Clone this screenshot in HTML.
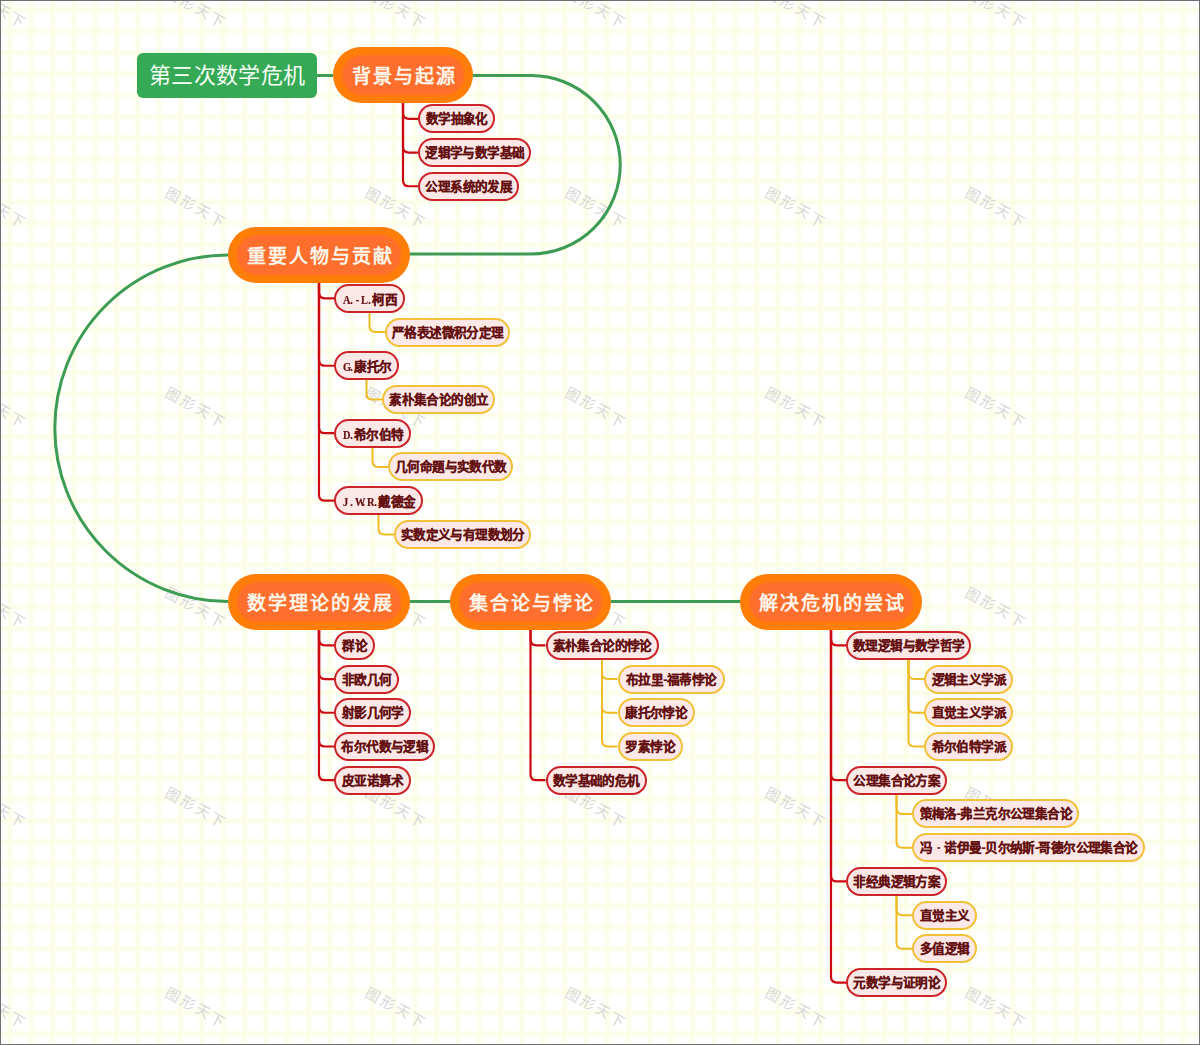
<!DOCTYPE html>
<html lang="zh-CN"><head><meta charset="utf-8"><title>第三次数学危机</title>
<style>
html,body{margin:0;padding:0;}
body{width:1200px;height:1045px;position:relative;overflow:hidden;background:#fff;font-family:"Liberation Sans",sans-serif;}
svg{position:absolute;left:0;top:0;}
.wm{position:absolute;width:80px;height:20px;line-height:20px;text-align:center;font-size:14.5px;font-weight:normal;color:#d8d8d8;transform:translateY(3px) rotate(29deg);letter-spacing:3px;white-space:nowrap;}
.title{position:absolute;left:137px;top:53px;width:180px;height:45px;border-radius:6px;background:#35a956;color:#f4fff4;font-size:22px;letter-spacing:0.35px;text-indent:0.35px;line-height:46.5px;text-align:center;white-space:nowrap;}
.on{position:absolute;height:56px;border-radius:28px;background:#ff7e08;}
.on .oi{position:absolute;left:9px;top:8px;right:9px;bottom:8px;border-radius:20px;background:#fe6e2d;filter:blur(1.2px);}
.on span{position:absolute;left:0;right:0;top:0;height:56px;line-height:60px;text-align:center;color:#fff6ea;font-size:19px;font-weight:bold;letter-spacing:2px;text-indent:2px;white-space:nowrap;}
.c2,.c3{position:absolute;box-sizing:border-box;height:29px;border-radius:14.5px;background:#fce8e7;border:2px solid #cc2429;color:#641010;font-size:12.6px;letter-spacing:-0.6px;text-indent:0.6px;font-weight:bold;-webkit-text-stroke:0.2px #641010;line-height:27px;text-align:center;white-space:nowrap;}
.c3{border-color:#f2c13a;}
.dot{display:inline-block;width:12px;text-align:center;}
.m{display:inline-block;width:6px;text-align:center;font-style:normal;font-family:"Liberation Serif",serif;font-size:13px;transform:scaleX(0.8);}
.lat{font-family:"Liberation Serif",serif;}
.frame{position:absolute;left:0;top:0;width:1200px;height:1045px;box-sizing:border-box;border:1px solid #707070;}
</style></head><body>
<svg width="1200" height="1045"><defs><filter id="bl" x="0" y="0" width="1" height="1"><feGaussianBlur stdDeviation="1.8"/></filter></defs><g fill="#fcfde4" filter="url(#bl)"><rect x="8.00" y="0" width="4" height="1045"/><rect x="29.33" y="0" width="4" height="1045"/><rect x="50.67" y="0" width="4" height="1045"/><rect x="72.00" y="0" width="4" height="1045"/><rect x="93.33" y="0" width="4" height="1045"/><rect x="114.67" y="0" width="4" height="1045"/><rect x="136.00" y="0" width="4" height="1045"/><rect x="157.33" y="0" width="4" height="1045"/><rect x="178.67" y="0" width="4" height="1045"/><rect x="200.00" y="0" width="4" height="1045"/><rect x="221.33" y="0" width="4" height="1045"/><rect x="242.67" y="0" width="4" height="1045"/><rect x="264.00" y="0" width="4" height="1045"/><rect x="285.33" y="0" width="4" height="1045"/><rect x="306.67" y="0" width="4" height="1045"/><rect x="328.00" y="0" width="4" height="1045"/><rect x="349.33" y="0" width="4" height="1045"/><rect x="370.67" y="0" width="4" height="1045"/><rect x="392.00" y="0" width="4" height="1045"/><rect x="413.33" y="0" width="4" height="1045"/><rect x="434.67" y="0" width="4" height="1045"/><rect x="456.00" y="0" width="4" height="1045"/><rect x="477.33" y="0" width="4" height="1045"/><rect x="498.67" y="0" width="4" height="1045"/><rect x="520.00" y="0" width="4" height="1045"/><rect x="541.33" y="0" width="4" height="1045"/><rect x="562.67" y="0" width="4" height="1045"/><rect x="584.00" y="0" width="4" height="1045"/><rect x="605.33" y="0" width="4" height="1045"/><rect x="626.67" y="0" width="4" height="1045"/><rect x="648.00" y="0" width="4" height="1045"/><rect x="669.33" y="0" width="4" height="1045"/><rect x="690.67" y="0" width="4" height="1045"/><rect x="712.00" y="0" width="4" height="1045"/><rect x="733.33" y="0" width="4" height="1045"/><rect x="754.67" y="0" width="4" height="1045"/><rect x="776.00" y="0" width="4" height="1045"/><rect x="797.33" y="0" width="4" height="1045"/><rect x="818.67" y="0" width="4" height="1045"/><rect x="840.00" y="0" width="4" height="1045"/><rect x="861.33" y="0" width="4" height="1045"/><rect x="882.67" y="0" width="4" height="1045"/><rect x="904.00" y="0" width="4" height="1045"/><rect x="925.33" y="0" width="4" height="1045"/><rect x="946.67" y="0" width="4" height="1045"/><rect x="968.00" y="0" width="4" height="1045"/><rect x="989.33" y="0" width="4" height="1045"/><rect x="1010.67" y="0" width="4" height="1045"/><rect x="1032.00" y="0" width="4" height="1045"/><rect x="1053.33" y="0" width="4" height="1045"/><rect x="1074.67" y="0" width="4" height="1045"/><rect x="1096.00" y="0" width="4" height="1045"/><rect x="1117.33" y="0" width="4" height="1045"/><rect x="1138.67" y="0" width="4" height="1045"/><rect x="1160.00" y="0" width="4" height="1045"/><rect x="1181.33" y="0" width="4" height="1045"/><rect x="0" y="8.00" width="1200" height="4"/><rect x="0" y="29.33" width="1200" height="4"/><rect x="0" y="50.67" width="1200" height="4"/><rect x="0" y="72.00" width="1200" height="4"/><rect x="0" y="93.33" width="1200" height="4"/><rect x="0" y="114.67" width="1200" height="4"/><rect x="0" y="136.00" width="1200" height="4"/><rect x="0" y="157.33" width="1200" height="4"/><rect x="0" y="178.67" width="1200" height="4"/><rect x="0" y="200.00" width="1200" height="4"/><rect x="0" y="221.33" width="1200" height="4"/><rect x="0" y="242.67" width="1200" height="4"/><rect x="0" y="264.00" width="1200" height="4"/><rect x="0" y="285.33" width="1200" height="4"/><rect x="0" y="306.67" width="1200" height="4"/><rect x="0" y="328.00" width="1200" height="4"/><rect x="0" y="349.33" width="1200" height="4"/><rect x="0" y="370.67" width="1200" height="4"/><rect x="0" y="392.00" width="1200" height="4"/><rect x="0" y="413.33" width="1200" height="4"/><rect x="0" y="434.67" width="1200" height="4"/><rect x="0" y="456.00" width="1200" height="4"/><rect x="0" y="477.33" width="1200" height="4"/><rect x="0" y="498.67" width="1200" height="4"/><rect x="0" y="520.00" width="1200" height="4"/><rect x="0" y="541.33" width="1200" height="4"/><rect x="0" y="562.67" width="1200" height="4"/><rect x="0" y="584.00" width="1200" height="4"/><rect x="0" y="605.33" width="1200" height="4"/><rect x="0" y="626.67" width="1200" height="4"/><rect x="0" y="648.00" width="1200" height="4"/><rect x="0" y="669.33" width="1200" height="4"/><rect x="0" y="690.67" width="1200" height="4"/><rect x="0" y="712.00" width="1200" height="4"/><rect x="0" y="733.33" width="1200" height="4"/><rect x="0" y="754.67" width="1200" height="4"/><rect x="0" y="776.00" width="1200" height="4"/><rect x="0" y="797.33" width="1200" height="4"/><rect x="0" y="818.67" width="1200" height="4"/><rect x="0" y="840.00" width="1200" height="4"/><rect x="0" y="861.33" width="1200" height="4"/><rect x="0" y="882.67" width="1200" height="4"/><rect x="0" y="904.00" width="1200" height="4"/><rect x="0" y="925.33" width="1200" height="4"/><rect x="0" y="946.67" width="1200" height="4"/><rect x="0" y="968.00" width="1200" height="4"/><rect x="0" y="989.33" width="1200" height="4"/><rect x="0" y="1010.67" width="1200" height="4"/><rect x="0" y="1032.00" width="1200" height="4"/></g></svg>
<div class="wm" style="left:-44px;top:-5px">图形天下</div><div class="wm" style="left:-44px;top:195px">图形天下</div><div class="wm" style="left:-44px;top:395px">图形天下</div><div class="wm" style="left:-44px;top:595px">图形天下</div><div class="wm" style="left:-44px;top:795px">图形天下</div><div class="wm" style="left:-44px;top:995px">图形天下</div><div class="wm" style="left:156px;top:-5px">图形天下</div><div class="wm" style="left:156px;top:195px">图形天下</div><div class="wm" style="left:156px;top:395px">图形天下</div><div class="wm" style="left:156px;top:595px">图形天下</div><div class="wm" style="left:156px;top:795px">图形天下</div><div class="wm" style="left:156px;top:995px">图形天下</div><div class="wm" style="left:356px;top:-5px">图形天下</div><div class="wm" style="left:356px;top:195px">图形天下</div><div class="wm" style="left:356px;top:395px">图形天下</div><div class="wm" style="left:356px;top:595px">图形天下</div><div class="wm" style="left:356px;top:795px">图形天下</div><div class="wm" style="left:356px;top:995px">图形天下</div><div class="wm" style="left:556px;top:-5px">图形天下</div><div class="wm" style="left:556px;top:195px">图形天下</div><div class="wm" style="left:556px;top:395px">图形天下</div><div class="wm" style="left:556px;top:595px">图形天下</div><div class="wm" style="left:556px;top:795px">图形天下</div><div class="wm" style="left:556px;top:995px">图形天下</div><div class="wm" style="left:756px;top:-5px">图形天下</div><div class="wm" style="left:756px;top:195px">图形天下</div><div class="wm" style="left:756px;top:395px">图形天下</div><div class="wm" style="left:756px;top:595px">图形天下</div><div class="wm" style="left:756px;top:795px">图形天下</div><div class="wm" style="left:756px;top:995px">图形天下</div><div class="wm" style="left:956px;top:-5px">图形天下</div><div class="wm" style="left:956px;top:195px">图形天下</div><div class="wm" style="left:956px;top:395px">图形天下</div><div class="wm" style="left:956px;top:595px">图形天下</div><div class="wm" style="left:956px;top:795px">图形天下</div><div class="wm" style="left:956px;top:995px">图形天下</div>
<svg width="1200" height="1045"><path d="M317 75.5L333 75.5" stroke="#3c9c53" stroke-width="3" fill="none"/><path d="M473 75.5L531 75.5A89.25 89.25 0 0 1 531 254L410 254" stroke="#3c9c53" stroke-width="3" fill="none"/><path d="M228 255A173 173 0 0 0 228 601.5" stroke="#3c9c53" stroke-width="3" fill="none"/><path d="M410 601.5L450 601.5M611 601.5L740 601.5" stroke="#3c9c53" stroke-width="3" fill="none"/><path d="M403.00 101.00L403.00 112.80Q403.00 118.80 409.00 118.80L418.00 118.80" stroke="#cc0a12" stroke-width="2.2" fill="none"/><path d="M403.00 101.00L403.00 146.53Q403.00 152.53 409.00 152.53L418.00 152.53" stroke="#cc0a12" stroke-width="2.2" fill="none"/><path d="M403.00 101.00L403.00 180.26Q403.00 186.26 409.00 186.26L418.00 186.26" stroke="#cc0a12" stroke-width="2.2" fill="none"/><path d="M319.00 281.00L319.00 292.30Q319.00 298.30 325.00 298.30L334.00 298.30" stroke="#cc0a12" stroke-width="2.2" fill="none"/><path d="M369.50 311.30L369.50 326.03Q369.50 332.03 375.50 332.03L385.00 332.03" stroke="#eebb22" stroke-width="2" fill="none"/><path d="M319.00 281.00L319.00 359.76Q319.00 365.76 325.00 365.76L334.00 365.76" stroke="#cc0a12" stroke-width="2.2" fill="none"/><path d="M366.50 378.76L366.50 393.49Q366.50 399.49 372.50 399.49L382.00 399.49" stroke="#eebb22" stroke-width="2" fill="none"/><path d="M319.00 281.00L319.00 427.22Q319.00 433.22 325.00 433.22L334.00 433.22" stroke="#cc0a12" stroke-width="2.2" fill="none"/><path d="M372.50 446.22L372.50 460.95Q372.50 466.95 378.50 466.95L388.00 466.95" stroke="#eebb22" stroke-width="2" fill="none"/><path d="M319.00 281.00L319.00 494.68Q319.00 500.68 325.00 500.68L334.00 500.68" stroke="#cc0a12" stroke-width="2.2" fill="none"/><path d="M378.50 513.68L378.50 528.41Q378.50 534.41 384.50 534.41L394.00 534.41" stroke="#eebb22" stroke-width="2" fill="none"/><path d="M319.00 628.00L319.00 639.30Q319.00 645.30 325.00 645.30L334.00 645.30" stroke="#cc0a12" stroke-width="2.2" fill="none"/><path d="M319.00 628.00L319.00 673.03Q319.00 679.03 325.00 679.03L334.00 679.03" stroke="#cc0a12" stroke-width="2.2" fill="none"/><path d="M319.00 628.00L319.00 706.76Q319.00 712.76 325.00 712.76L334.00 712.76" stroke="#cc0a12" stroke-width="2.2" fill="none"/><path d="M319.00 628.00L319.00 740.49Q319.00 746.49 325.00 746.49L334.00 746.49" stroke="#cc0a12" stroke-width="2.2" fill="none"/><path d="M319.00 628.00L319.00 774.22Q319.00 780.22 325.00 780.22L334.00 780.22" stroke="#cc0a12" stroke-width="2.2" fill="none"/><path d="M530.50 628.00L530.50 639.30Q530.50 645.30 536.50 645.30L545.50 645.30" stroke="#cc0a12" stroke-width="2.2" fill="none"/><path d="M602.00 658.30L602.00 673.03Q602.00 679.03 608.00 679.03L617.50 679.03" stroke="#eebb22" stroke-width="2" fill="none"/><path d="M602.00 658.30L602.00 706.76Q602.00 712.76 608.00 712.76L617.50 712.76" stroke="#eebb22" stroke-width="2" fill="none"/><path d="M602.00 658.30L602.00 740.49Q602.00 746.49 608.00 746.49L617.50 746.49" stroke="#eebb22" stroke-width="2" fill="none"/><path d="M530.50 628.00L530.50 774.22Q530.50 780.22 536.50 780.22L545.50 780.22" stroke="#cc0a12" stroke-width="2.2" fill="none"/><path d="M831.00 628.00L831.00 639.30Q831.00 645.30 837.00 645.30L846.00 645.30" stroke="#cc0a12" stroke-width="2.2" fill="none"/><path d="M908.50 658.30L908.50 673.03Q908.50 679.03 914.50 679.03L924.00 679.03" stroke="#eebb22" stroke-width="2" fill="none"/><path d="M908.50 658.30L908.50 706.76Q908.50 712.76 914.50 712.76L924.00 712.76" stroke="#eebb22" stroke-width="2" fill="none"/><path d="M908.50 658.30L908.50 740.49Q908.50 746.49 914.50 746.49L924.00 746.49" stroke="#eebb22" stroke-width="2" fill="none"/><path d="M831.00 628.00L831.00 774.22Q831.00 780.22 837.00 780.22L846.00 780.22" stroke="#cc0a12" stroke-width="2.2" fill="none"/><path d="M896.50 793.22L896.50 807.95Q896.50 813.95 902.50 813.95L912.00 813.95" stroke="#eebb22" stroke-width="2" fill="none"/><path d="M896.50 793.22L896.50 841.68Q896.50 847.68 902.50 847.68L912.00 847.68" stroke="#eebb22" stroke-width="2" fill="none"/><path d="M831.00 628.00L831.00 875.41Q831.00 881.41 837.00 881.41L846.00 881.41" stroke="#cc0a12" stroke-width="2.2" fill="none"/><path d="M896.50 894.41L896.50 909.14Q896.50 915.14 902.50 915.14L912.00 915.14" stroke="#eebb22" stroke-width="2" fill="none"/><path d="M896.50 894.41L896.50 942.87Q896.50 948.87 902.50 948.87L912.00 948.87" stroke="#eebb22" stroke-width="2" fill="none"/><path d="M831.00 628.00L831.00 976.60Q831.00 982.60 837.00 982.60L846.00 982.60" stroke="#cc0a12" stroke-width="2.2" fill="none"/></svg>
<div class="title">第三次数学危机</div><div class="on" style="left:333px;top:47px;width:140px"><div class="oi"></div><span>背景与起源</span></div><div class="on" style="left:228px;top:227px;width:182px"><div class="oi"></div><span>重要人物与贡献</span></div><div class="on" style="left:228px;top:574px;width:182px"><div class="oi"></div><span>数学理论的发展</span></div><div class="on" style="left:450px;top:574px;width:161px"><div class="oi"></div><span>集合论与悖论</span></div><div class="on" style="left:740px;top:574px;width:182px"><div class="oi"></div><span>解决危机的尝试</span></div><div class="c2" style="left:418.00px;top:104.30px;width:77.00px">数学抽象化</div><div class="c2" style="left:418.00px;top:138.03px;width:113.00px">逻辑学与数学基础</div><div class="c2" style="left:418.00px;top:171.76px;width:101.00px">公理系统的发展</div><div class="c2" style="left:334.00px;top:283.80px;width:71.00px"><i class="m">A</i><i class="m">.</i><i class="m">-</i><i class="m">L</i><i class="m">.</i>柯西</div><div class="c3" style="left:385.00px;top:317.53px;width:125.00px">严格表述微积分定理</div><div class="c2" style="left:334.00px;top:351.26px;width:65.00px"><i class="m">G</i><i class="m">.</i>康托尔</div><div class="c3" style="left:382.00px;top:384.99px;width:113.00px">素朴集合论的创立</div><div class="c2" style="left:334.00px;top:418.72px;width:77.00px"><i class="m">D</i><i class="m">.</i>希尔伯特</div><div class="c3" style="left:388.00px;top:452.45px;width:125.00px">几何命题与实数代数</div><div class="c2" style="left:334.00px;top:486.18px;width:89.00px"><i class="m">J</i><i class="m">.</i><i class="m">W</i><i class="m">.</i><i class="m">R</i><i class="m">.</i>戴德金</div><div class="c3" style="left:394.00px;top:519.91px;width:137.00px">实数定义与有理数划分</div><div class="c2" style="left:334.00px;top:630.80px;width:41.00px">群论</div><div class="c2" style="left:334.00px;top:664.53px;width:65.00px">非欧几何</div><div class="c2" style="left:334.00px;top:698.26px;width:77.00px">射影几何学</div><div class="c2" style="left:334.00px;top:731.99px;width:101.00px">布尔代数与逻辑</div><div class="c2" style="left:334.00px;top:765.72px;width:77.00px">皮亚诺算术</div><div class="c2" style="left:545.50px;top:630.80px;width:113.00px">素朴集合论的悖论</div><div class="c3" style="left:617.50px;top:664.53px;width:107.00px">布拉里-福蒂悖论</div><div class="c3" style="left:617.50px;top:698.26px;width:77.00px">康托尔悖论</div><div class="c3" style="left:617.50px;top:731.99px;width:65.00px">罗素悖论</div><div class="c2" style="left:545.50px;top:765.72px;width:101.00px">数学基础的危机</div><div class="c2" style="left:846.00px;top:630.80px;width:125.00px">数理逻辑与数学哲学</div><div class="c3" style="left:924.00px;top:664.53px;width:89.00px">逻辑主义学派</div><div class="c3" style="left:924.00px;top:698.26px;width:89.00px">直觉主义学派</div><div class="c3" style="left:924.00px;top:731.99px;width:89.00px">希尔伯特学派</div><div class="c2" style="left:846.00px;top:765.72px;width:101.00px">公理集合论方案</div><div class="c3" style="left:912.00px;top:799.45px;width:167.00px">策梅洛-弗兰克尔公理集合论</div><div class="c3" style="left:912.00px;top:833.18px;width:233.00px">冯<span class="dot">·</span>诺伊曼-贝尔纳斯-哥德尔公理集合论</div><div class="c2" style="left:846.00px;top:866.91px;width:101.00px">非经典逻辑方案</div><div class="c3" style="left:912.00px;top:900.64px;width:65.00px">直觉主义</div><div class="c3" style="left:912.00px;top:934.37px;width:65.00px">多值逻辑</div><div class="c2" style="left:846.00px;top:968.10px;width:101.00px">元数学与证明论</div>
<div class="frame"></div>
</body></html>
